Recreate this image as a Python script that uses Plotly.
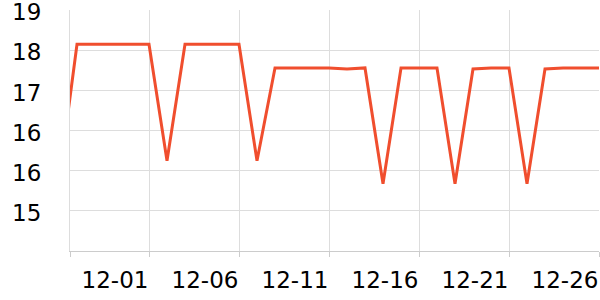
import plotly.graph_objects as go

dates = ["2023-11-26", "2023-11-27", "2023-11-28", "2023-11-29", "2023-11-30",
         "2023-12-01", "2023-12-02", "2023-12-03", "2023-12-04", "2023-12-05",
         "2023-12-06", "2023-12-07", "2023-12-08", "2023-12-09", "2023-12-10",
         "2023-12-11", "2023-12-12", "2023-12-13", "2023-12-14", "2023-12-15",
         "2023-12-16", "2023-12-17", "2023-12-18", "2023-12-19", "2023-12-20",
         "2023-12-21", "2023-12-22", "2023-12-23", "2023-12-24", "2023-12-25",
         "2023-12-26"]
values = [15.40, 18.12, 18.12, 18.12, 18.12,
          18.12, 15.80, 18.12, 18.12, 18.12,
          18.12, 15.80, 17.65, 17.65, 17.65,
          17.65, 17.63, 17.65, 15.34, 17.65,
          17.65, 17.65, 15.34, 17.63, 17.65,
          17.65, 15.34, 17.63, 17.65, 17.65,
          17.65]

x_tick_vals = ["2023-11-26 14:40", "2023-12-01", "2023-12-06", "2023-12-11",
               "2023-12-16", "2023-12-21", "2023-12-26"]
x_tick_text = ["", "12-01", "12-06", "12-11", "12-16", "12-21", "12-26"]
y_tick_vals = [14.8, 15.6, 16.4, 17.2, 18.0, 18.8]
y_tick_text = ["15", "16", "16", "17", "18", "19"]

fig = go.Figure()
fig.add_trace(go.Scatter(
    x=dates, y=values, mode="lines",
    line=dict(color="#f04e2e", width=3),
    hoverinfo="skip",
))

fig.update_layout(
    width=600, height=300,
    margin=dict(l=70, r=1, t=10, b=49),
    paper_bgcolor="white", plot_bgcolor="white",
    showlegend=False,
    font=dict(family="DejaVu Sans", size=23, color="#000"),
)
fig.update_xaxes(
    type="date",
    range=["2023-11-26 14:40", "2023-12-26"],
    tickmode="array", tickvals=x_tick_vals, ticktext=x_tick_text,
    showgrid=True, gridcolor="#dddddd", gridwidth=1,
    showline=True, linecolor="#cccccc", linewidth=1,
    ticks="outside", ticklen=5, tickcolor="#cccccc",
    ticklabelshift=-34, ticklabelstandoff=3,
    ticklabeloverflow="allow", automargin=False,
    zeroline=False,
)
fig.update_yaxes(
    range=[14.0, 18.805],
    tickmode="array", tickvals=y_tick_vals, ticktext=y_tick_text,
    showgrid=True, gridcolor="#dddddd", gridwidth=1,
    showline=True, linecolor="#dddddd", linewidth=1,
    ticks="", ticklabelstandoff=23, ticklabelshift=2,
    ticklabeloverflow="allow", automargin=False,
    zeroline=False,
)

fig.write_html("out.html")
